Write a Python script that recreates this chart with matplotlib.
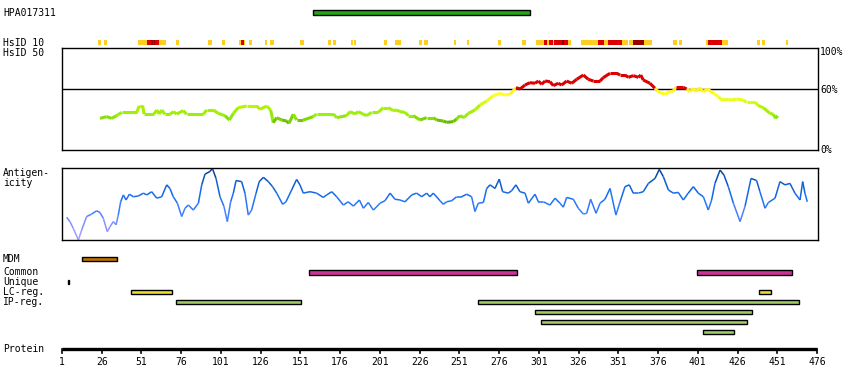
import matplotlib
matplotlib.use("Agg")
import matplotlib.pyplot as plt
import numpy as np
from matplotlib.collections import LineCollection
from matplotlib.colors import LinearSegmentedColormap

# protein / axis
length = 476
tick_positions = list(range(1, 477, 25))

# antibody target region
hpa_name = "HPA017311"
hpa_region = (158.9, 295.4)

# HsID 10 blocks: start, end, level (1 = some, 2 = high, 3 = highest)
hsid10_start = [23.6, 27.4, 48.8, 54.3, 57.2, 58.1, 58.9, 59.7, 61.8, 72.7, 92.9, 101.7, 112.4, 113.6, 115.3,
                118.6, 128.7, 131.9, 150.7, 168.3, 171.5, 182.8, 184.5, 203.6, 210.5, 225.6, 228.7, 247.6,
                255.8, 275.3, 290.4, 299.2, 304.2, 306.1, 307.4, 309.9, 310.5, 315.6, 316.8, 319.3, 327.5,
                338.2, 342.0, 344.5, 353.3, 357.7, 360.2, 367.2, 385.4, 389.2, 406.2, 407.4, 416.2, 417.5,
                438.2, 441.4, 456.5]
hsid10_end = [25.3, 29.1, 54.3, 57.2, 58.1, 58.9, 59.7, 61.8, 66.4, 74.4, 95.4, 103.4, 113.6, 115.3, 116.1,
              120.5, 129.8, 134.2, 153.1, 170.0, 173.4, 184.1, 185.8, 205.5, 214.3, 227.5, 231.3, 248.7,
              257.1, 277.2, 292.7, 304.2, 306.1, 307.4, 309.9, 310.5, 315.6, 316.8, 319.3, 321.2, 338.2,
              342.0, 344.5, 353.3, 357.1, 360.2, 367.2, 372.2, 387.9, 391.1, 407.4, 416.2, 417.5, 420.0,
              440.1, 443.3, 457.8]
hsid10_level = [1, 1, 1, 2, 3, 2, 3, 2, 1, 1, 1, 1, 1, 2, 1,
                1, 1, 1, 1, 1, 1, 1, 1, 1, 1, 1, 1, 1,
                1, 1, 1, 1, 2, 1, 2, 1, 2, 3, 2, 1, 1,
                2, 1, 2, 1, 1, 3, 1, 1, 1, 1, 2, 1, 1,
                1, 1, 1]

# HsID 50 curve (percent identity)
hsid50_pos = [24.9, 29.1, 32.3, 35.4, 38.6, 48.0, 49.6, 51.8, 52.6, 58.9, 60.6, 62.2, 63.7, 65.8, 69.0, 71.0,
              73.2, 77.3, 79.5, 89.9, 92.0, 96.2, 99.3, 103.5, 106.3, 108.8, 111.9, 117.2, 123.5, 125.6,
              129.8, 132.3, 133.9, 136.1, 139.2, 142.4, 143.8, 146.5, 148.7, 152.8, 159.1, 161.2, 171.7,
              173.8, 180.1, 182.2, 185.3, 187.4, 190.6, 192.7, 195.8, 200.0, 203.1, 206.3, 209.4, 211.6,
              213.6, 216.8, 218.9, 222.0, 226.2, 230.4, 234.6, 236.7, 240.9, 243.0, 247.2, 249.3, 251.4,
              253.9, 256.6, 260.8, 264.0, 268.2, 272.3, 276.6, 279.7, 282.9, 286.6, 289.2, 292.3, 295.4,
              298.6, 300.7, 302.8, 304.9, 308.0, 310.1, 313.2, 315.4, 318.5, 321.7, 324.8, 329.0, 332.1,
              335.3, 339.5, 341.5, 345.8, 350.0, 352.1, 355.2, 357.3, 360.4, 363.6, 365.1, 366.7, 370.9,
              374.1, 376.1, 380.4, 383.5, 385.6, 387.3, 391.9, 394.0, 396.1, 398.2, 399.9, 402.0, 404.5,
              407.0, 410.8, 414.0, 416.0, 420.2, 422.3, 425.5, 429.6, 431.8, 437.0, 439.1, 442.2, 446.4,
              448.5, 450.0, 451.2]
hsid50_pct = [31.3, 33.0, 31.3, 34.0, 37.2, 37.2, 43.4, 43.4, 35.6, 35.6, 39.5, 35.6, 39.5, 35.3, 35.3, 37.9,
              35.6, 38.9, 35.3, 35.3, 39.5, 39.5, 36.2, 34.0, 29.7, 36.2, 41.8, 43.4, 43.4, 40.2,
              43.4, 39.5, 27.1, 32.0, 29.7, 28.7, 26.4, 35.3, 29.7, 29.7, 33.0, 35.6, 35.6,
              32.0, 34.0, 37.9, 35.6, 37.9, 35.3, 34.0, 37.2, 37.2, 41.8, 41.8, 38.9, 39.5,
              37.9, 37.2, 34.0, 34.0, 29.7, 32.0, 32.0, 29.7, 28.7, 27.4, 28.1, 30.7, 34.0,
              32.0, 36.2, 39.5, 44.4, 48.3, 53.6, 55.9, 54.2, 54.9, 61.4, 60.1, 64.0, 66.3,
              65.7, 67.9, 64.7, 67.9, 67.3, 63.4, 65.7, 64.0, 67.9, 65.7, 69.6, 73.8, 69.6,
              67.9, 67.9, 71.2, 75.5, 75.5, 73.8, 73.8, 71.5, 73.2, 71.5, 73.8, 68.9, 65.7,
              60.8, 57.5, 54.9, 57.5, 58.1, 61.7, 61.7, 60.1, 57.5, 60.8, 57.5, 61.4, 57.5,
              60.1, 55.9, 52.6, 49.3, 50.0, 49.3, 50.3, 49.3, 47.0, 47.0, 43.8, 41.8, 36.2,
              35.3, 31.3, 34.0]

# antigenicity profile
antigen_pos = [3.9, 6.0, 8.1, 11.3, 13.4, 16.5, 19.7, 22.8, 24.9, 27.0, 29.5, 31.2, 33.3, 35.0, 36.4, 37.9,
               39.6, 41.3, 43.4, 45.9, 49.0, 52.2, 54.3, 57.4, 60.6, 63.7, 66.9, 68.9, 71.0, 73.6, 76.3,
               78.4, 80.5, 83.6, 86.8, 88.9, 91.0, 94.1, 95.6, 97.9, 100.4, 102.9, 105.0, 107.1, 108.8,
               110.5, 114.0, 116.1, 118.2, 120.3, 123.1, 125.1, 127.7, 130.8, 133.5, 136.1, 139.8, 141.9,
               145.5, 148.6, 150.7, 152.8, 157.0, 161.2, 165.4, 167.5, 170.7, 173.8, 178.0, 181.1, 184.3,
               188.1, 190.6, 193.7, 196.9, 201.1, 204.2, 207.4, 210.5, 213.6, 216.8, 221.0, 224.1, 227.3,
               230.4, 232.5, 234.6, 238.8, 240.9, 243.0, 246.2, 249.3, 252.4, 255.6, 258.7, 260.8, 262.9,
               266.1, 268.2, 270.3, 273.4, 276.1, 278.2, 281.8, 283.9, 286.6, 289.1, 292.3, 294.4, 298.6,
               300.7, 303.8, 308.0, 311.2, 314.3, 316.4, 318.5, 322.7, 325.8, 329.0, 331.1, 333.6, 337.0,
               339.5, 342.6, 345.8, 349.5, 352.1, 355.2, 357.9, 360.4, 363.6, 366.7, 369.9, 374.1, 376.8,
               379.3, 382.5, 385.6, 388.7, 391.9, 395.0, 398.2, 401.3, 404.5, 407.6, 409.7, 411.8, 415.0,
               417.5, 420.2, 423.4, 427.6, 430.7, 434.5, 438.0, 440.1, 443.3, 445.4, 449.6, 452.7, 455.9,
               459.0, 462.1, 465.3, 467.0, 468.4, 469.9]
antigen_val = [-0.36, -0.48, -0.67, -0.99, -0.71, -0.34, -0.27, -0.18, -0.23, -0.39, -0.76, -0.62, -0.48, -0.57,
               -0.30, 0.07, 0.26, 0.12, 0.28, 0.21, 0.23, 0.31, 0.26, 0.35, 0.17, 0.21, 0.54, 0.44, 0.21,
               0.03, -0.34, -0.11, -0.02, -0.16, 0.03, 0.54, 0.84, 0.91, 1.00, 0.72, 0.21, -0.06, -0.48,
               0.07, 0.31, 0.66, 0.63, 0.31, -0.30, -0.16, 0.31, 0.63, 0.75, 0.63, 0.49, 0.31, 0.00, 0.07,
               0.40, 0.69, 0.54, 0.31, 0.35, 0.31, 0.19, 0.26, 0.35, 0.21, -0.02, 0.07, -0.05,
               0.12, -0.11, 0.05, -0.16, 0.03, 0.10, 0.31, 0.14, 0.12, 0.07, 0.26, 0.31, 0.21,
               0.31, 0.21, 0.31, 0.10, 0.00, 0.07, 0.10, 0.21, 0.21, 0.28, 0.21, -0.20, 0.03,
               0.05, 0.44, 0.54, 0.44, 0.70, 0.35, 0.31, 0.38, 0.54, 0.35, 0.31, 0.03, 0.28,
               0.07, 0.07, -0.02, 0.17, 0.03, -0.08, 0.19, 0.14, -0.11, -0.27, -0.25, 0.14, -0.25,
               0.03, 0.14, 0.44, -0.30, 0.07, 0.49, 0.54, 0.31, 0.31, 0.35, 0.58, 0.72, 0.97,
               0.77, 0.40, 0.31, 0.33, 0.12, 0.31, 0.49, 0.31, 0.21, -0.16, 0.12, 0.58, 0.95,
               0.81, 0.49, 0.03, -0.48, -0.06, 0.72, 0.66, 0.35, -0.11, 0.05, 0.17, 0.63, 0.54,
               0.58, 0.31, 0.12, 0.63, 0.31, 0.07]

# feature tracks
mdm = [(13.8, 35.4)]
common = [(156.6, 287.1), (400.7, 460.1)]
unique = [(4.6, 5.4)]
lc_reg = [(44.6, 70.0), (439.7, 446.9)]
ip_reg = [(72.7, 151.2), (262.9, 464.9), (298.8, 434.9), (302.6, 431.8), (404.5, 423.6)]
ip_row = [0, 0, 1, 2, 3]

W, H = 850, 390
X0, X1 = 62, 817
ppr = (X1 - X0) / (length - 1)
FONT = dict(family="DejaVu Sans Mono", fontsize=7, color="black")


def res_lim(left_px, right_px):
    return 1 + (left_px - X0) / ppr, 1 + (right_px - X0) / ppr


def panel(top_px, bottom_px, left_px=X0, right_px=818):
    ax = fig.add_axes([left_px / W, 1 - bottom_px / H, (right_px - left_px) / W, (bottom_px - top_px) / H])
    ax.set_xlim(*res_lim(left_px, right_px))
    ax.set_xticks([])
    ax.set_yticks([])
    for s in ax.spines.values():
        s.set_linewidth(1.0)
    return ax


def colored_line(ax, x, y, cmap, norm_lo, norm_hi, lw, override=None):
    pts = np.column_stack([x, y])
    segs = np.stack([pts[:-1], pts[1:]], axis=1)
    mid = (np.array(y[:-1]) + np.array(y[1:])) / 2
    cols = [cmap((m - norm_lo) / (norm_hi - norm_lo)) for m in mid]
    if override is not None:
        cols = [override(m, c) for m, c in zip(mid, cols)]
    ax.add_collection(LineCollection(segs, colors=cols, linewidths=lw, capstyle="butt", joinstyle="miter"))


fig = plt.figure(figsize=(W / 100, H / 100), dpi=100)

# layout axes: x in residues, y in pixels (downwards)
lay = fig.add_axes([0, 0, 1, 1])
lay.set_xlim(*res_lim(0, W))
lay.set_ylim(H, 0)
lay.axis("off")

# antibody region
lay.bar(hpa_region[0], 4.7, width=hpa_region[1] - hpa_region[0], bottom=10, align="edge",
        color="#22a415", edgecolor="black", linewidth=1.0)
fig.text(3 / W, 1 - 13 / H, hpa_name, va="center", ha="left", **FONT)

# HsID 10 row
lvl_colors = {1: "#ffcc22", 2: "#dd0000", 3: "#990000"}
for s, e, l in zip(hsid10_start, hsid10_end, hsid10_level):
    lay.bar(s, 5.5, width=e - s, bottom=39.5, align="edge", color=lvl_colors[l], linewidth=0)
fig.text(3 / W, 1 - 42.5 / H, "HsID 10", va="center", ha="left", **FONT)
fig.text(3 / W, 1 - 52.5 / H, "HsID 50", va="center", ha="left", **FONT)

# HsID 50 panel
hs = panel(48.3, 150.3)
hs.set_ylim(0, 100)
hs.axhline(60, color="black", linewidth=1.0)
hs_cmap = LinearSegmentedColormap.from_list(
    "hs", [(0.0, "#55aa00"), (0.12, "#6fc400"), (0.25, "#99ee11"), (0.45, "#aaf000"),
           (0.65, "#ddff11"), (0.85, "#ffff22"), (1.0, "#ffee22")])
colored_line(hs, hsid50_pos, hsid50_pct, hs_cmap, 25, 60, 2.2,
             override=lambda m, c: "#dd0000" if m >= 60 else c)
for label, ypx in [("100%", 52), ("60%", 90), ("0%", 150)]:
    fig.text(820 / W, 1 - ypx / H, label, va="center", ha="left", **FONT)

# antigenicity panel
ag = panel(168.3, 240.3)
ag.set_ylim(-1, 1)
ag_cmap = LinearSegmentedColormap.from_list(
    "ag", [(0.0, "#aaa4ff"), (0.2, "#8c92ff"), (0.4, "#3d7fff"), (0.6, "#1a6ff0"),
           (0.8, "#0d5ccc"), (1.0, "#083d8a")])
colored_line(ag, antigen_pos, antigen_val, ag_cmap, -1, 1, 1.1)
fig.text(3 / W, 1 - 173 / H, "Antigen-", va="center", ha="left", **FONT)
fig.text(3 / W, 1 - 183.5 / H, "icity", va="center", ha="left", **FONT)

# feature tracks
tracks = [("MDM", mdm, "#c07000", 256.7), ("Common", common, "#cc3399", 270.3),
          ("Unique", unique, "black", 280.0), ("LC-reg.", lc_reg, "#eedd33", 290.0)]
for name, spans, col, top in tracks:
    for s, e in spans:
        lay.bar(s, 4.2, width=e - s, bottom=top, align="edge", color=col, edgecolor="black", linewidth=1.0)
    fig.text(3 / W, 1 - (top + 2) / H, name, va="center", ha="left", **FONT)
for (s, e), r in zip(ip_reg, ip_row):
    lay.bar(s, 4.2, width=e - s, bottom=300 + 10 * r, align="edge", color="#a0cc66",
            edgecolor="black", linewidth=1.0)
fig.text(3 / W, 1 - 302 / H, "IP-reg.", va="center", ha="left", **FONT)

# protein axis
lay.plot([1, length], [349, 349], color="black", linewidth=2.4, solid_capstyle="butt")
for t in tick_positions:
    lay.plot([t, t], [349, 353], color="black", linewidth=1.2)
    lay.text(t, 362, str(t), va="center", ha="center", **FONT)
fig.text(3 / W, 1 - 349 / H, "Protein", va="center", ha="left", **FONT)

fig.savefig("out.png", dpi=100)
